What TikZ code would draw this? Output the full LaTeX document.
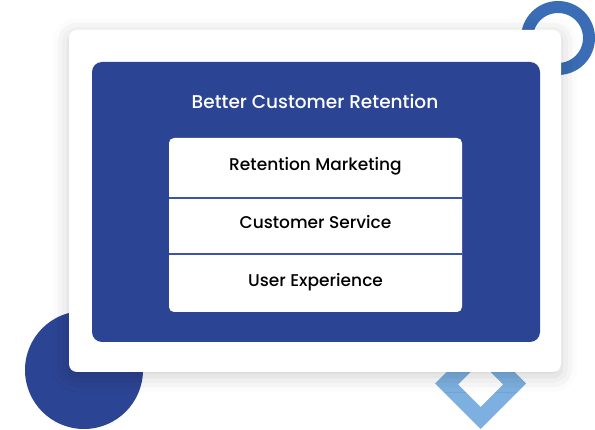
\documentclass[tikz,border=0pt]{standalone}
\usepackage{fontspec}
\setmainfont{Poppins}[UprightFont=* Medium]
\usetikzlibrary{positioning}
\usetikzlibrary{shadows.blur}
\definecolor{panelblue}{HTML}{2C4494}
\definecolor{ringblue}{HTML}{3A6DB5}
\definecolor{lightblue}{HTML}{7DB0E0}
\definecolor{linesblue}{HTML}{3A55A5}

\begin{document}
\begin{tikzpicture}[x=1pt,y=-1pt]
    %\draw [help lines] (0,0) grid (595,430);
    \useasboundingbox (0,0) rectangle (595,430);

    %shapes behind the card
    \draw [ringblue, line width=12pt] (558,38) circle (31pt);
    \fill [panelblue] (84,370) circle (59pt);
    \fill [lightblue, even odd rule] (480.5,338) -- (526,383.5) -- (480.5,429) -- (435,383.5) -- cycle
        (480.5,362) -- (503,384.5) -- (480.5,407) -- (458,384.5) -- cycle;

    %card
    \node (card) [fill=white, rounded corners=8pt, minimum width=492pt, minimum height=342pt,
        blur shadow={shadow xshift=0pt, shadow yshift=-4pt, shadow blur radius=16pt, shadow opacity=20}] at (315,201) {};
    \node (panel) [fill=panelblue, rounded corners=10pt, minimum width=448pt, minimum height=280pt] at (316,202) {};
    \node (title) [text=white, font=\fontsize{18.5}{22}\selectfont] at (315,101) {Better Customer Retention};

    %stack
    \node (stack) [fill=white, rounded corners=5pt, minimum width=293pt, minimum height=174pt] at (315.5,225) {};
    \tikzset{item/.style={minimum width=293pt, inner sep=0pt, text height=12pt, text depth=6pt,
        font=\fontsize{17}{20}\selectfont}}
    \node (rm) [item, minimum height=60pt] at (315.5,168) {Retention Marketing};
    \node (cs) [item, below=0pt of rm, minimum height=55pt] {Customer Service};
    \node (ux) [item, below=0pt of cs, minimum height=59pt] {User Experience};

    \draw [linesblue, line width=2pt] (rm.south west) to (rm.south east);
    \draw [linesblue, line width=2pt] (cs.south west) to (cs.south east);

\end{tikzpicture}
\end{document}
